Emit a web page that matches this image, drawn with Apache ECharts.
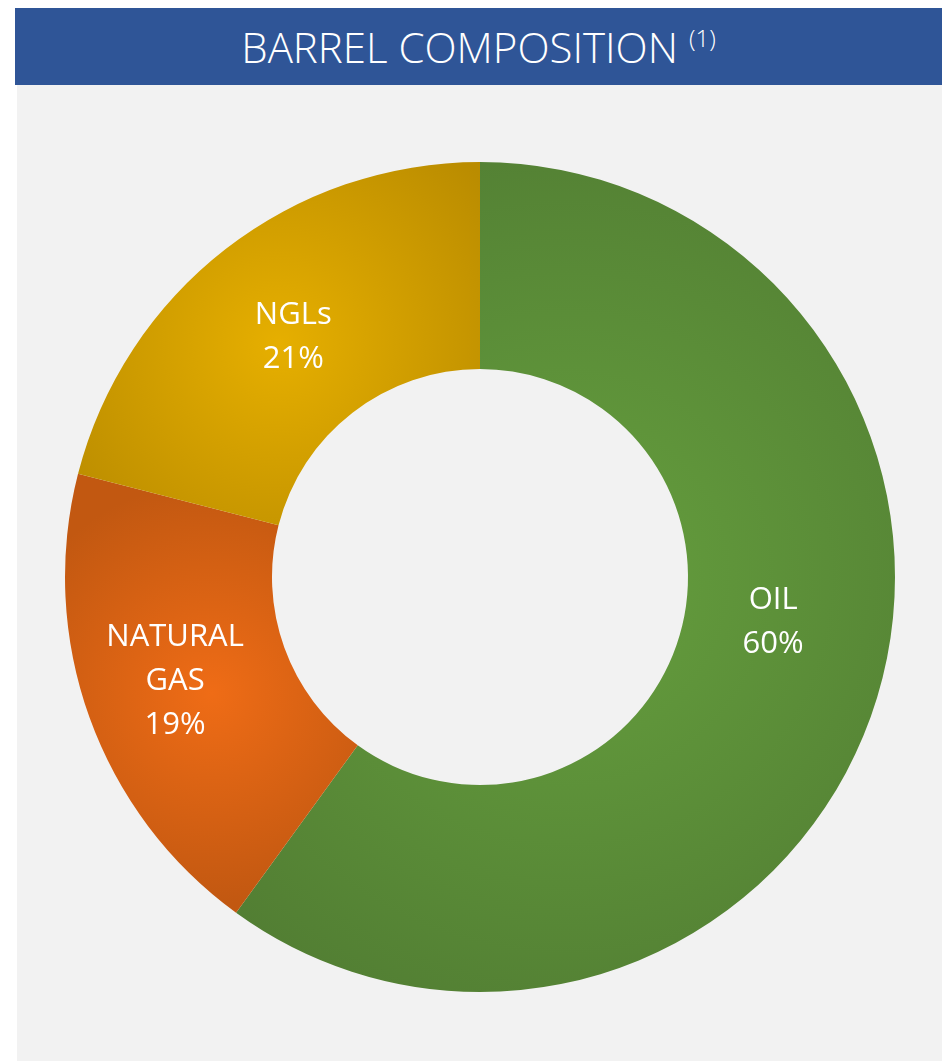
<!DOCTYPE html>
<html>
<head>
<meta charset="utf-8">
<script src="https://cdn.jsdelivr.net/npm/echarts@6/dist/echarts.min.js"></script>
<style>
  html, body { margin: 0; padding: 0; background: #ffffff; }
  #titleBar {
    position: absolute; left: 15px; top: 8px; width: 927px; height: 77px;
    background: #2F5597; color: #ffffff;
    font-family: "Open Sans", "Noto Sans", sans-serif; font-weight: 300;
    font-size: 42px; line-height: 77px; text-align: center;
  }
  #titleBar sup { font-size: 24px; vertical-align: 16px; line-height: 0; }
  #chart {
    position: absolute; left: 17px; top: 85px; width: 925px; height: 976px;
    background: #F2F2F2;
  }
</style>
</head>
<body>
<div id="titleBar">BARREL COMPOSITION <sup>(1)</sup></div>
<div id="chart"></div>
<script>
// 数据
var categories = ["OIL", "NATURAL\nGAS", "NGLs"];
var shares = [60, 19, 21];
// 颜色: 中心 / 边缘
var centerColors = ["#66A03E", "#EF6C16", "#E6AF00"];
var edgeColors = ["#527E33", "#C25811", "#BA8C00"];
// 标签微调 (Excel 的位置)
var labelShift = [[-6, -52], [-9, -2], [6, 9]];

var myChart = echarts.init(document.getElementById("chart"));

var pieData = categories.map(function (name, i) {
  return {
    name: name,
    value: shares[i],
    itemStyle: {
      color: new echarts.graphic.RadialGradient(0.5, 0.5, 0.72, [
        { offset: 0, color: centerColors[i] },
        { offset: 1, color: edgeColors[i] }
      ])
    }
  };
});

myChart.setOption({
  backgroundColor: "#F2F2F2",
  animation: false,
  series: [
    {
      type: "pie",
      center: [463, 492],
      radius: [208, 415],
      startAngle: 90,
      clockwise: true,
      avoidLabelOverlap: false,
      itemStyle: { borderWidth: 0 },
      label: {
        show: true,
        position: "inside",
        color: "#ffffff",
        fontFamily: "Open Sans, Noto Sans, sans-serif",
        fontSize: 31,
        lineHeight: 44,
        formatter: function (p) {
          return p.name + "\n" + p.value + "%";
        }
      },
      labelLayout: function (params) {
        var s = labelShift[params.dataIndex];
        return { dx: s[0], dy: s[1] };
      },
      emphasis: { disabled: true },
      data: pieData
    }
  ]
});
</script>
</body>
</html>
